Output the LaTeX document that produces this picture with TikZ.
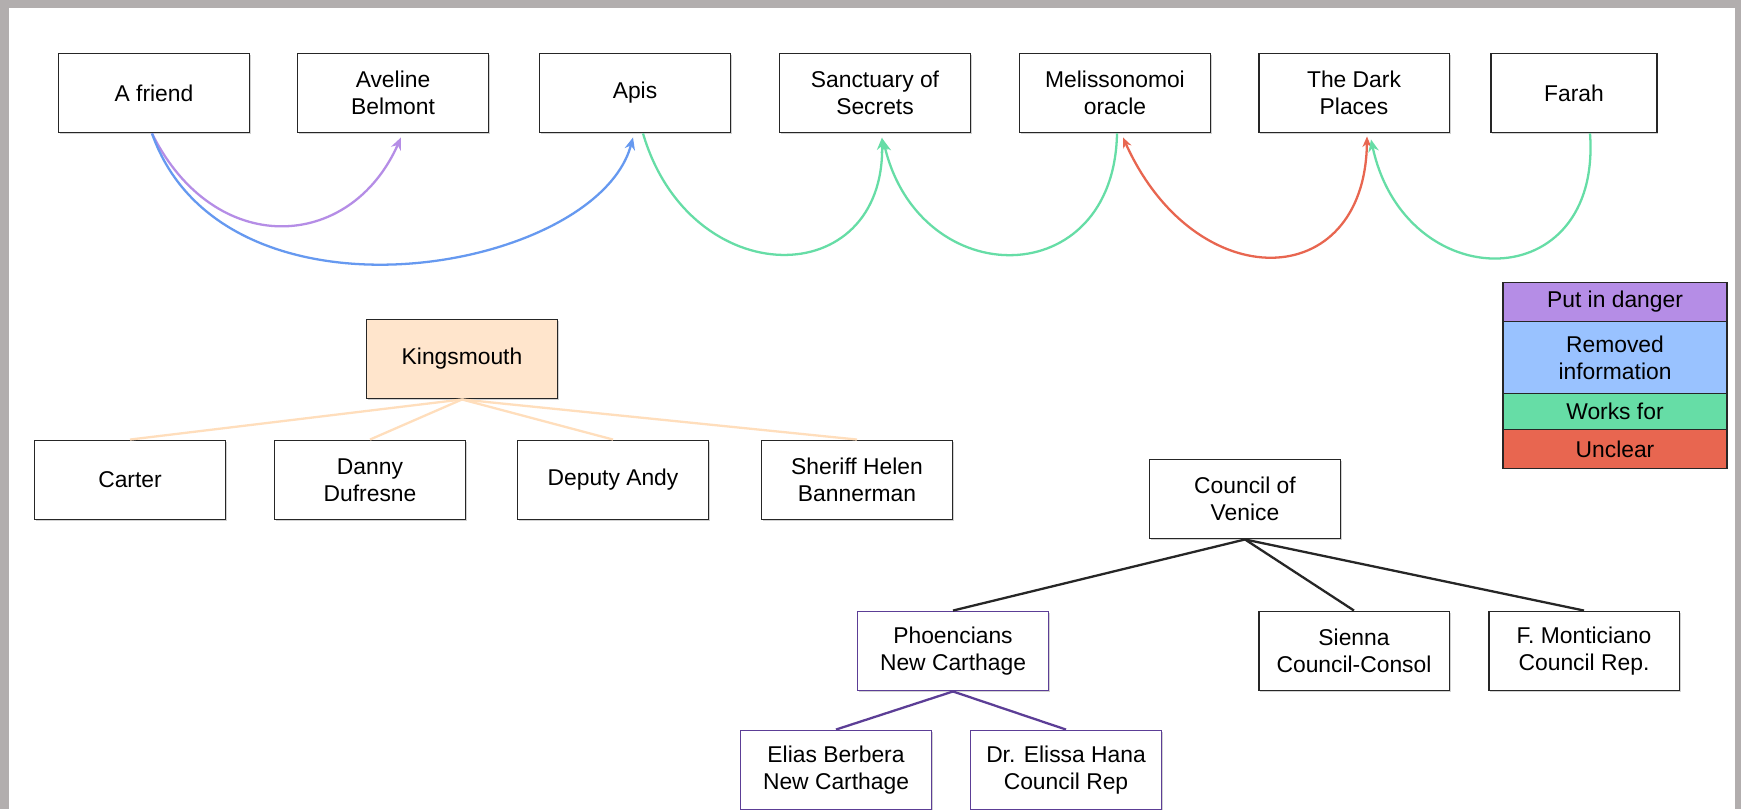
\documentclass[tikz,border=0pt]{standalone}
\usepackage{fontspec}
\setmainfont{Liberation Sans}
\usepackage{tikz}
\usetikzlibrary{calc}
\usetikzlibrary{positioning}
\usetikzlibrary{arrows.meta}
\usetikzlibrary{shadows}
\usepackage{xcolor}

\definecolor{framegray}{RGB}{178,174,174}
\definecolor{dangerpurple}{RGB}{181,141,230}
\definecolor{removedblue}{RGB}{153,194,255}
\definecolor{linkblue}{RGB}{102,153,240}
\definecolor{worksgreen}{RGB}{102,221,166}
\definecolor{uncleared}{RGB}{232,102,80}
\definecolor{peach}{RGB}{255,229,204}
\definecolor{peachline}{RGB}{255,222,188}
\definecolor{carthage}{RGB}{92,62,150}

\begin{document}
\begin{tikzpicture}[x=0.02cm, y=-0.02cm]
        % ================= styles =================
        \tikzset{
            % white boxes with dark border
            entity/.style={draw=black!85, line width=1.1pt, fill=white, minimum width=3.82cm, minimum height=1.58cm,
                inner sep=0pt, align=center, font=\fontsize{13}{15.5}\selectfont,
                drop shadow={shadow xshift=0.6pt, shadow yshift=-0.8pt, opacity=0.35}},
            % legend rows
            legend/.style={draw=black!85, line width=1.1pt, minimum width=4.48cm, inner sep=0pt, outer sep=0pt,
                align=center, font=\fontsize{13}{15.5}\selectfont},
            % curved relations
            rel/.style={line width=1.3pt, -{Stealth[length=7pt, width=6pt]}},
            % tree branches
            branch/.style={line width=1.3pt}
        }

        % frame
        \useasboundingbox (0,0) rectangle (1741,809);
        \fill[framegray] (0,0) rectangle (1741,809);
        \fill[white] (9,8) rectangle (1735,812);

        % ================= top row =================
        \node[entity] (friend) at (154,93) {A friend};
        \node[entity] (aveline) at (393,93) {Aveline\\Belmont};
        \node[entity] (apis) at (635,93) {Apis};
        \node[entity] (sanctuary) at (875,93) {Sanctuary of\\Secrets};
        \node[entity] (oracle) at (1115,93) {Melissonomoi\\oracle};
        \node[entity] (darkplaces) at (1354,93) {The Dark\\Places};
        \node[entity, minimum width=3.32cm] (farah) at (1574,93) {Farah};

        % relations between the top boxes
        \draw[rel, dangerpurple] ($(friend.south)+(-2,0)$) .. controls +(62,125) and +(-51,115) .. ($(aveline.south)+(8,4)$);
        \draw[rel, linkblue] ($(friend.south)+(-2,0)$) .. controls +(72,205) and +(-36,135) .. ($(apis.south)+(-2,4)$);
        \draw[rel, worksgreen] ($(apis.south)+(8,0)$) .. controls +(47,160) and +(3,156) .. ($(sanctuary.south)+(7,4)$);
        \draw[rel, worksgreen] ($(oracle.south)+(2,0)$) .. controls +(-3,160) and +(37,154) .. ($(sanctuary.south)+(8,6)$);
        \draw[line width=1.3pt, uncleared, {Stealth[length=6pt, width=5pt]}-{Stealth[length=6pt, width=5pt]}]
            ($(oracle.south)+(8,4)$) .. controls +(72,160) and +(-2,158) .. ($(darkplaces.south)+(13,3)$);
        \draw[rel, worksgreen] ($(farah.south)+(16,0)$) .. controls +(12,165) and +(34,158) .. ($(darkplaces.south)+(17,6)$);

        % ================= Kingsmouth =================
        \node[entity, fill=peach] (king) at (462,359) {Kingsmouth};
        \node[entity] (carter) at (130,480) {Carter};
        \node[entity] (danny) at (370,480) {Danny\\Dufresne};
        \node[entity] (deputy) at (613,480) {Deputy Andy};
        \node[entity] (sheriff) at (857,480) {Sheriff Helen\\Bannerman};
        \foreach \kid in {carter, danny, deputy, sheriff}
            \draw[branch, peachline] (king.south) -- (\kid.north);

        % ================= Council of Venice =================
        \node[entity] (council) at (1245,499) {Council of\\Venice};
        \node[entity, draw=carthage] (phoenc) at (953,651) {Phoencians\\New Carthage};
        \node[entity] (sienna) at (1354,651) {Sienna\\Council-Consol};
        \node[entity] (monti) at (1584,651) {F. Monticiano\\Council Rep.};
        \node[entity, draw=carthage] (elias) at (836,770) {Elias Berbera\\New Carthage};
        \node[entity, draw=carthage] (elissa) at (1066,770) {Dr. Elissa Hana\\Council Rep};
        \foreach \kid in {phoenc, sienna, monti}
            \draw[branch, black!85] (council.south) -- (\kid.north);
        \draw[branch, carthage] (phoenc.south) -- (elias.north);
        \draw[branch, carthage] (phoenc.south) -- (elissa.north);

        % ================= legend =================
        \node[legend, fill=dangerpurple, minimum height=0.78cm] (lgdanger) at (1615,302) {Put in danger};
        \node[legend, fill=removedblue, minimum height=1.44cm, below=0pt of lgdanger] (lgremoved) {Removed\\information};
        \node[legend, fill=worksgreen, minimum height=0.72cm, below=0pt of lgremoved] (lgworks) {Works for};
        \node[legend, fill=uncleared, minimum height=0.78cm, below=0pt of lgworks] (lgunclear) {Unclear};

    \end{tikzpicture}
\end{document}
